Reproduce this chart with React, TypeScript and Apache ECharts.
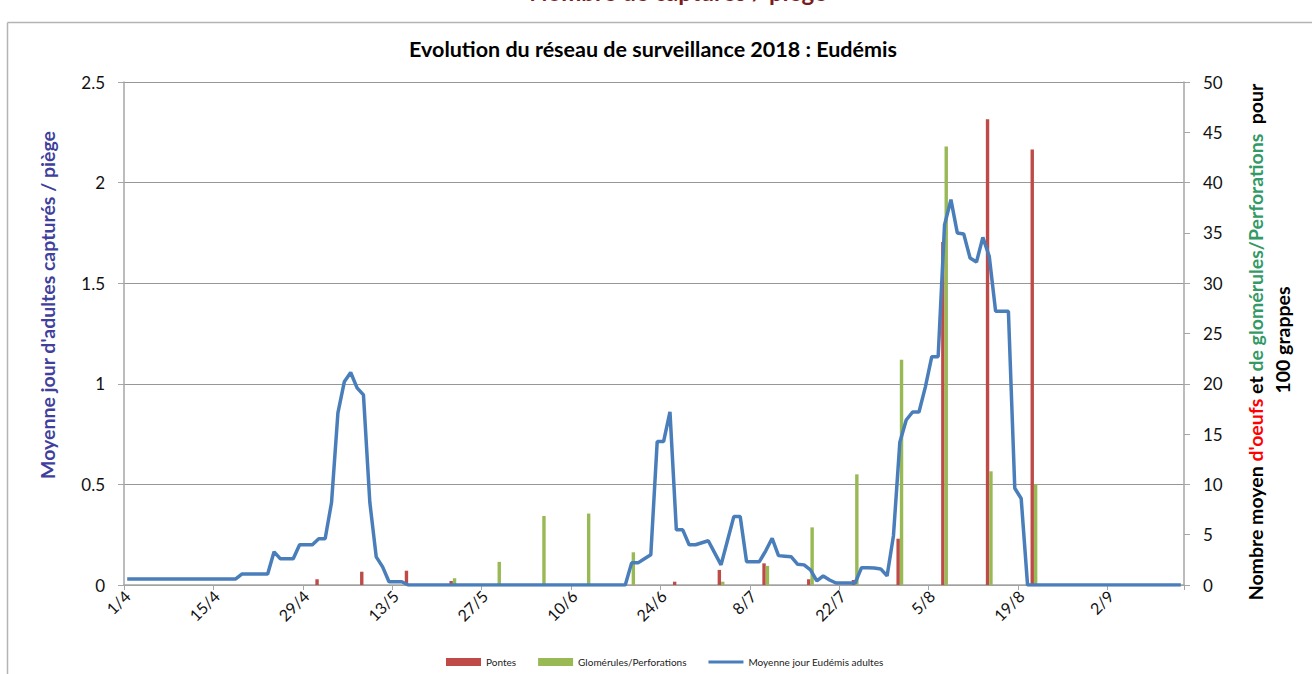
import React, { useEffect, useRef } from "react";
import * as echarts from "echarts";

// ---- Categories: one per day from 1/4 to 13/9 (2018) ----
const DAY_COUNT = 166;
const categories: string[] = [];
for (let i = 0; i < DAY_COUNT; i++) {
  const d = new Date(2018, 3, 1 + i);
  categories.push(`${d.getDate()}/${d.getMonth() + 1}`);
}

// ---- Daily mean adults captured per trap (left axis) ----
const adultMean: number[] = [
  // 1/4 - 13/5
  0.03, 0.03, 0.03, 0.03, 0.03, 0.03, 0.03, 0.03, 0.03, 0.03,
  0.03, 0.03, 0.03, 0.03, 0.03, 0.03, 0.03, 0.03, 0.055, 0.055,
  0.055, 0.055, 0.055, 0.165, 0.13, 0.13, 0.13, 0.2, 0.2, 0.2,
  0.23, 0.23, 0.41, 0.855, 1.01, 1.056, 0.98, 0.945, 0.41, 0.14,
  0.09, 0.016, 0.016, 0.016,
  // 15/5 - 18/6
  0, 0, 0, 0, 0, 0, 0, 0, 0, 0,
  0, 0, 0, 0, 0, 0, 0, 0, 0, 0,
  0, 0, 0, 0, 0, 0, 0, 0, 0, 0,
  0, 0, 0, 0, 0,
  // 19/6 - 20/8
  0.11, 0.11, 0.13, 0.15, 0.713, 0.713, 0.86, 0.274, 0.274, 0.2,
  0.2, 0.21, 0.22, 0.16, 0.1, 0.22, 0.34, 0.34, 0.116, 0.116,
  0.116, 0.17, 0.232, 0.146, 0.143, 0.14, 0.103, 0.1, 0.075, 0.02,
  0.045, 0.025, 0.01, 0.01, 0.01, 0.01, 0.086, 0.086, 0.084, 0.08,
  0.045, 0.245, 0.71, 0.82, 0.86, 0.86, 0.985, 1.135, 1.135, 1.79,
  1.915, 1.75, 1.745, 1.625, 1.605, 1.728, 1.634, 1.36, 1.36, 1.36,
  0.481, 0.43,
  // 21/8 - 13/9
  0, 0, 0, 0, 0, 0, 0, 0, 0, 0,
  0, 0, 0, 0, 0, 0, 0, 0, 0, 0,
  0, 0, 0, 0, 0,
];

// ---- Weekly observations (right axis) ----
const sampleDates: string[] = [
  "1/5", "8/5", "15/5", "22/5", "29/5", "5/6", "12/6", "19/6", "26/6",
  "3/7", "10/7", "17/7", "24/7", "31/7", "7/8", "14/8", "21/8",
];
const pontes: number[] = [
  0.57, 1.32, 1.42, 0.4, 0, 0, 0, 0, 0.33,
  1.5, 2.15, 0.57, 0.5, 4.6, 34.1, 46.3, 43.3,
];
const glomerules: number[] = [
  0, 0, 0, 0.67, 2.3, 6.86, 7.1, 3.25, 0,
  0.33, 1.9, 5.73, 11.0, 22.4, 43.6, 11.3, 10.0,
];

const toDaily = (vals: number[]) => {
  const out: (number | null)[] = categories.map(() => null);
  sampleDates.forEach((d, i) => {
    const idx = categories.indexOf(d);
    if (idx >= 0) out[idx] = vals[i];
  });
  return out;
};

const FONT = "Lato";
const AXIS_GREY = "#a6a6a6";

export default function App() {
  const ref = useRef<HTMLDivElement>(null);

  useEffect(() => {
    if (!ref.current) return;
    const chart = echarts.init(ref.current, undefined, { renderer: "svg" });
    const option: any = {
      animation: false,
      backgroundColor: "#ffffff",
      textStyle: { fontFamily: FONT },
      grid: { left: 124, right: 128, top: 82, bottom: 89, containLabel: false },
      legend: {
        top: 652,
        left: 441,
        itemWidth: 35,
        itemHeight: 8,
        itemGap: 22,
        textStyle: { fontFamily: FONT, fontSize: 10, color: "#222" },
        data: [
          { name: "Pontes", icon: "rect" },
          { name: "Glomérules/Perforations", icon: "rect" },
          { name: "Moyenne jour Eudémis adultes", icon: "path://M0,0L120,0L120,10L0,10Z" },
        ],
      },
      xAxis: {
        type: "category",
        data: categories,
        boundaryGap: true,
        axisLine: { show: true, lineStyle: { color: AXIS_GREY, width: 1.5 } },
        axisTick: { show: true, interval: 13, length: 5, lineStyle: { color: AXIS_GREY } },
        axisLabel: {
          interval: 13,
          rotate: 45,
          fontSize: 16,
          color: "#111",
          fontFamily: FONT,
          margin: 8,
        },
        splitLine: { show: false },
      },
      yAxis: [
        {
          type: "value",
          min: 0,
          max: 2.5,
          interval: 0.5,
          axisLine: { show: true, lineStyle: { color: AXIS_GREY, width: 1.5 } },
          axisTick: { show: true, length: 6, lineStyle: { color: AXIS_GREY } },
          axisLabel: { fontSize: 17, color: "#111", fontFamily: FONT, margin: 19 },
          splitLine: { show: true, lineStyle: { color: "#979797", width: 1 } },
        },
        {
          type: "value",
          position: "right",
          min: 0,
          max: 50,
          interval: 5,
          axisLine: { show: true, lineStyle: { color: AXIS_GREY, width: 1.5 } },
          axisTick: { show: true, length: 6, lineStyle: { color: AXIS_GREY } },
          axisLabel: { fontSize: 17, color: "#111", fontFamily: FONT, margin: 19 },
          splitLine: { show: false },
        },
      ],
      series: [
        {
          name: "Pontes",
          type: "bar",
          yAxisIndex: 1,
          data: toDaily(pontes),
          barWidth: 3.4,
          barGap: "0%",
          itemStyle: { color: "#be4b48" },
        },
        {
          name: "Glomérules/Perforations",
          type: "bar",
          yAxisIndex: 1,
          data: toDaily(glomerules),
          barWidth: 3.4,
          barGap: "0%",
          itemStyle: { color: "#98b954" },
        },
        {
          name: "Moyenne jour Eudémis adultes",
          type: "line",
          yAxisIndex: 0,
          data: adultMean,
          symbol: "none",
          showSymbol: false,
          lineStyle: { color: "#4a7ebb", width: 3.5 },
          itemStyle: { color: "#4a7ebb" },
          z: 5,
        },
      ],
      graphic: [
        {
          type: "line",
          shape: { x1: 7.5, y1: 22.5, x2: 1312, y2: 22.5 },
          style: { stroke: "#b4b4b4", lineWidth: 1.5 },
          silent: true,
        },
        {
          type: "line",
          shape: { x1: 7.5, y1: 22.5, x2: 7.5, y2: 674 },
          style: { stroke: "#b4b4b4", lineWidth: 1.5 },
          silent: true,
        },
        {
          type: "text",
          x: 678,
          y: 3,
          style: {
            text: "Nombre de captures / piège",
            font: `bold 24px ${FONT}`,
            fill: "#7b1c1c",
            align: "center",
            verticalAlign: "bottom",
          },
          silent: true,
        },
        {
          type: "text",
          x: 653,
          y: 49,
          style: {
            text: "Evolution du réseau de surveillance 2018 : Eudémis",
            font: `bold 21.5px ${FONT}`,
            fill: "#000",
            align: "center",
            verticalAlign: "middle",
          },
          silent: true,
        },
        {
          type: "text",
          x: 47,
          y: 305,
          rotation: Math.PI / 2,
          style: {
            text: "Moyenne jour d'adultes capturés / piège",
            font: `bold 19.5px ${FONT}`,
            fill: "#403f9e",
            align: "center",
            verticalAlign: "middle",
          },
          silent: true,
        },
        {
          type: "text",
          x: 1255,
          y: 342,
          rotation: Math.PI / 2,
          style: {
            text: "{k|Nombre moyen }{r|d'oeufs}{k| et }{g|de glomérules/Perforations}{k|  pour}",
            font: `bold 19.5px ${FONT}`,
            align: "center",
            verticalAlign: "middle",
            rich: {
              k: { fill: "#000", fontSize: 19.5, fontWeight: "bold", fontFamily: FONT },
              r: { fill: "#ff0000", fontSize: 19.5, fontWeight: "bold", fontFamily: FONT },
              g: { fill: "#339966", fontSize: 19.5, fontWeight: "bold", fontFamily: FONT },
            },
          },
          silent: true,
        },
        {
          type: "text",
          x: 1282,
          y: 340,
          rotation: Math.PI / 2,
          style: {
            text: "100 grappes",
            font: `bold 19.5px ${FONT}`,
            fill: "#000",
            align: "center",
            verticalAlign: "middle",
          },
          silent: true,
        },
      ],
    };
    chart.setOption(option);
    return () => chart.dispose();
  }, []);

  return (
    <div
      ref={ref}
      style={{ position: "fixed", left: 0, top: 0, width: 1312, height: 674 }}
    />
  );
}
